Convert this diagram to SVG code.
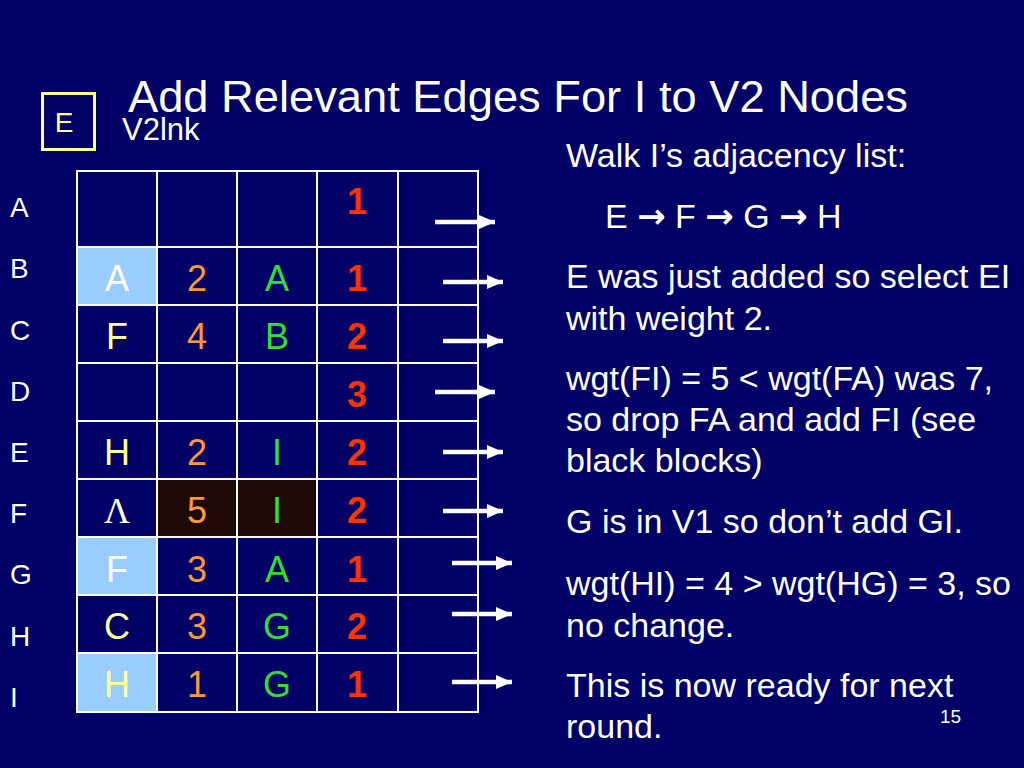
<svg xmlns="http://www.w3.org/2000/svg" width="1024" height="768" viewBox="0 0 1024 768">
<defs>
<marker id="ah" viewBox="0 0 16 16" markerWidth="16" markerHeight="16" refX="16" refY="8" orient="auto" markerUnits="userSpaceOnUse">
<path d="M0,1 L16,8 L0,15 Z" fill="#FFFFFF"/>
</marker>
<style>
text{font-family:"Liberation Sans",Arial,sans-serif;}
.t{fill:#FFFFFF;font-size:34px;}
.lbl{fill:#FFFFFF;font-size:28px;}
.c{font-size:36px;text-anchor:middle;}
.w{fill:#FFFFFF;}
.y{fill:#FFFF99;}
.o{fill:#FF9933;}
.g{fill:#33DD33;}
.r{fill:#FF3300;font-weight:bold;}
.grid{stroke:#FFFFFF;stroke-width:2;fill:none;}
.arr{stroke:#FFFFFF;stroke-width:4.5;marker-end:url(#ah);}
</style>
</defs>
<rect width="1024" height="768" fill="#000066"/>
<text id="title" x="128" y="112" fill="#FFFFFF" font-size="45" textLength="780" lengthAdjust="spacingAndGlyphs">Add Relevant Edges For I to V2 Nodes</text>
<g id="ebox">
<rect x="42.500" y="93.500" width="52" height="56" fill="none" stroke="#FFFF99" stroke-width="3"/>
<text x="64" y="132" class="y" font-size="28" text-anchor="middle">E</text>
</g>
<text id="v2lnk" x="122" y="140" fill="#FFFFFF" font-size="31">V2lnk</text>
<g id="rowlabels">
<text x="10" y="217" class="lbl">A</text>
<text x="10" y="278" class="lbl">B</text>
<text x="10" y="340" class="lbl">C</text>
<text x="10" y="401" class="lbl">D</text>
<text x="10" y="462" class="lbl">E</text>
<text x="10" y="523" class="lbl">F</text>
<text x="10" y="584" class="lbl">G</text>
<text x="10" y="646" class="lbl">H</text>
<text x="10" y="707" class="lbl">I</text>
</g>
<g id="table">
<rect x="77" y="248" width="80" height="57" fill="#99CCFF"/>
<rect x="77" y="538" width="80" height="57" fill="#99CCFF"/>
<rect x="77" y="654" width="80" height="57" fill="#99CCFF"/>
<rect x="158" y="480" width="159" height="57" fill="#1E0808"/>
<rect x="77" y="171" width="401" height="541" class="grid" stroke-width="3"/>
<path class="grid" d="M157,171V712M237,171V712M317,171V712M398,171V712M77,247H478M77,305H478M77,363H478M77,421H478M77,479H478M77,537H478M77,595H478M77,653H478"/>
</g>
<g id="cells">
<text x="357" y="214" class="c r">1</text>
<text x="117" y="291" class="c w">A</text><text x="197" y="291" class="c o">2</text><text x="277" y="291" class="c g">A</text><text x="357" y="291" class="c r">1</text>
<text x="117" y="349" class="c y">F</text><text x="197" y="349" class="c o">4</text><text x="277" y="349" class="c g">B</text><text x="357" y="349" class="c r">2</text>
<text x="357" y="407" class="c r">3</text>
<text x="117" y="465" class="c y">H</text><text x="197" y="465" class="c o">2</text><text x="277" y="465" class="c g">I</text><text x="357" y="465" class="c r">2</text>
<text x="117" y="523" class="c w" style="font-family:'Liberation Serif',serif">Λ</text><text x="197" y="523" class="c o">5</text><text x="277" y="523" class="c g">I</text><text x="357" y="523" class="c r">2</text>
<text x="117" y="582" class="c w">F</text><text x="197" y="582" class="c o">3</text><text x="277" y="582" class="c g">A</text><text x="357" y="582" class="c r">1</text>
<text x="117" y="639" class="c y">C</text><text x="197" y="639" class="c o">3</text><text x="277" y="639" class="c g">G</text><text x="357" y="639" class="c r">2</text>
<text x="117" y="697" class="c y">H</text><text x="197" y="697" class="c o">1</text><text x="277" y="697" class="c g">G</text><text x="357" y="697" class="c r">1</text>
</g>
<g id="connectors">
<line x1="435" y1="222" x2="495" y2="222" class="arr"/>
<line x1="443" y1="282" x2="503" y2="282" class="arr"/>
<line x1="443" y1="341" x2="503" y2="341" class="arr"/>
<line x1="435" y1="392" x2="495" y2="392" class="arr"/>
<line x1="443" y1="452" x2="503" y2="452" class="arr"/>
<line x1="443" y1="511" x2="503" y2="511" class="arr"/>
<line x1="452" y1="563" x2="512" y2="563" class="arr"/>
<line x1="452" y1="614" x2="512" y2="614" class="arr"/>
<line x1="452" y1="682" x2="512" y2="682" class="arr"/>
</g>
<g id="notes" class="t">
<text x="566" y="167">Walk I’s adjacency list:</text>
<text x="605" y="228">E <tspan font-family="DejaVu Sans" font-weight="bold">→</tspan> F <tspan font-family="DejaVu Sans" font-weight="bold">→</tspan> G <tspan font-family="DejaVu Sans" font-weight="bold">→</tspan> H</text>
<text x="566" y="288">E was just added so select EI</text>
<text x="566" y="330">with weight 2.</text>
<text x="566" y="390">wgt(FI) = 5 &lt; wgt(FA) was 7,</text>
<text x="566" y="431">so drop FA and add FI (see</text>
<text x="566" y="472">black blocks)</text>
<text x="566" y="533">G is in V1 so don’t add GI.</text>
<text x="566" y="595">wgt(HI) = 4 &gt; wgt(HG) = 3, so</text>
<text x="566" y="637">no change.</text>
<text x="566" y="697">This is now ready for next</text>
<text x="566" y="738">round.</text>
</g>
<text id="pagenum" x="940" y="723" fill="#FFFFFF" font-size="19">15</text>
</svg>
